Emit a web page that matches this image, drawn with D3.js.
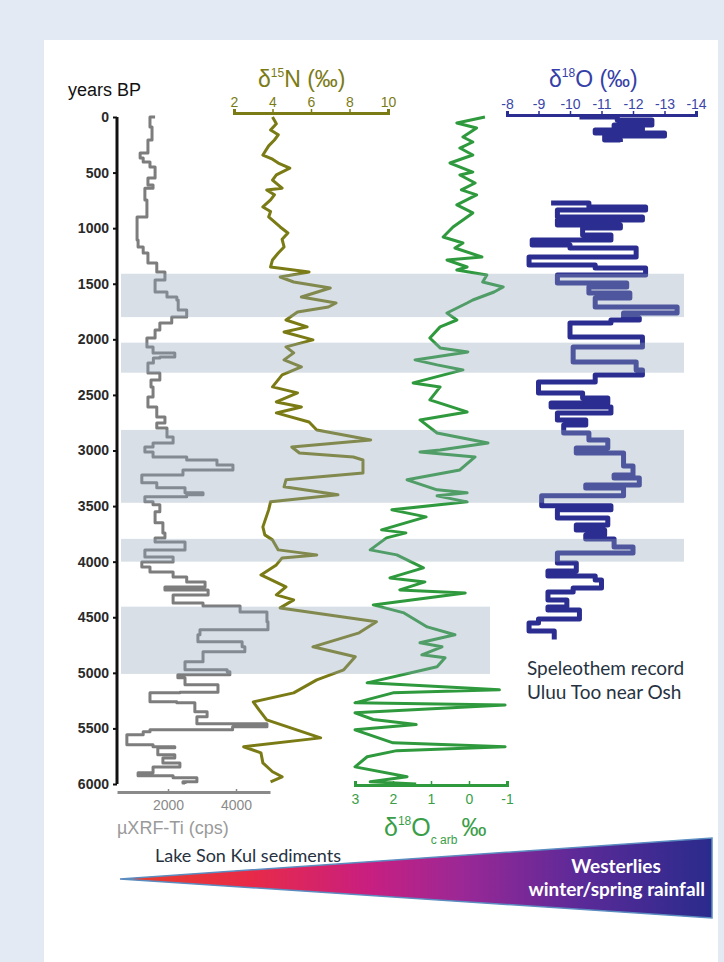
<!DOCTYPE html>
<meta charset="utf-8">
<html>
<head>
<script src="https://d3js.org/d3.v7.min.js"></script>
<style>
  body { margin: 0; background: #e3eaf3; }
  svg { display: block; }
</style>
</head>
<body>
<script>

// ---- data ----
var yearTicks = [0, 500, 1000, 1500, 2000, 2500, 3000, 3500, 4000, 4500, 5000, 5500, 6000];

// shaded periods [start, end] in years BP, and whether they run full width
var bandStart = [1410, 2030, 2815, 3795, 4405];
var bandEnd   = [1800, 2300, 3470, 4000, 5010];
var bandWide  = [true, true, true, true, false];

// Lake Son Kul µXRF-Ti (cps)
var tiAge = [0, 90, 207, 324, 369, 405, 450, 549, 612, 640, 746, 899, 953, 1106, 1169, 1223, 1313, 1394, 1466, 1574,
  1619, 1646, 1736, 1799, 1853, 1916, 1988, 2068, 2122, 2160, 2167, 2212, 2302, 2365, 2428, 2518, 2608, 2698, 2752, 2797,
  2878, 2932, 2968, 3013, 3058, 3085, 3130, 3175, 3220, 3291, 3336, 3381, 3399, 3417, 3462, 3489, 3552, 3651, 3741, 3786,
  3822, 3894, 3957, 4002, 4047, 4092, 4137, 4182, 4227, 4254, 4299, 4371, 4398, 4452, 4541, 4613, 4658, 4721, 4766, 4811,
  4901, 4973, 4991, 5018, 5045, 5108, 5175, 5180, 5261, 5270, 5351, 5396, 5459, 5486, 5513, 5531, 5558, 5648, 5665, 5675,
  5737, 5765, 5810, 5846, 5899, 5926, 5944, 5980, 5990, 6000];
var tiVal = [1620, 1470, 1530, 1410, 1180, 1270, 1470, 1620, 1410, 1560, 1320, 1380, 1090, 1090, 1120, 1270, 1410, 1670, 1910, 1620,
  1970, 2260, 2300, 2550, 2110, 1760, 1620, 1380, 1560, 2200, 1760, 1570, 1410, 1760, 1500, 1560, 1410, 1670, 1910, 1670,
  1970, 2150, 1560, 1320, 1560, 2550, 3440, 3910, 2440, 1230, 1670, 2500, 3030, 2550, 1320, 1560, 1760, 1620, 1850, 1910,
  1620, 2500, 1320, 2150, 1230, 1470, 2150, 2550, 3090, 1910, 3180, 2150, 3030, 4120, 4910, 4940, 2940, 2880, 4180, 4260,
  3030, 2500, 3740, 3820, 2290, 2500, 3470, 2350, 1470, 2260, 2790, 3150, 2850, 4910, 3900, 1470, 1270, 790, 1560, 2200,
  1700, 2200, 1850, 2350, 1560, 1120, 2150, 2850, 2440, 2500];

// Lake Son Kul δ15N (‰)
var nAge = [0, 60, 117, 160, 207, 260, 342, 380, 414, 460, 520, 567, 640, 656, 700, 746, 809, 850, 899, 989, 1043, 1100, 1169, 1223, 1286, 1349, 1394, 1439,
  1484, 1538, 1619, 1673, 1709, 1754, 1826, 1888, 1934, 2005, 2068, 2122, 2185, 2248, 2320, 2428, 2482, 2563, 2608, 2662,
  2743, 2815, 2905, 2968, 3022, 3058, 3085, 3202, 3264, 3327, 3399, 3462, 3534, 3687, 3759, 3804, 3894, 3939, 3966, 4029,
  4119, 4227, 4299, 4344, 4416, 4541, 4640, 4766, 4856, 4973, 5063, 5180, 5261, 5333, 5423, 5585, 5665, 5720, 5810, 5890,
  5935, 5980];
var nVal = [4.0, 4.2, 3.9, 4.3, 4.1, 3.8, 3.5, 4.0, 4.3, 4.9, 4.2, 4.0, 4.5, 3.7, 4.1, 3.9, 3.5, 3.9, 3.8, 4.4, 4.8, 4.5, 4.6, 4.3, 4.0, 3.9, 5.9, 4.4,
  5.1, 7.0, 5.5, 7.3, 6.9, 5.3, 4.7, 5.8, 4.6, 6.1, 4.7, 5.1, 4.6, 5.5, 4.5, 4.0, 5.3, 4.2, 5.5, 4.2,
  5.9, 6.3, 9.1, 5.0, 5.4, 8.2, 8.7, 8.7, 4.7, 4.6, 7.4, 3.9, 3.8, 3.5, 3.6, 4.0, 4.3, 6.3, 4.5, 4.2,
  3.4, 4.7, 4.2, 5.1, 4.4, 9.4, 8.5, 6.1, 8.3, 7.7, 6.3, 5.1, 3.0, 3.3, 3.7, 6.5, 2.5, 3.4, 3.5, 4.0,
  4.5, 3.9];

// Lake Son Kul δ18O carb (‰)
var oCarbAge = [0, 54, 99, 180, 225, 279, 342, 414, 495, 522, 594, 656, 701, 791, 863, 989, 1079, 1133, 1178, 1259,
  1286, 1349, 1376, 1421, 1484, 1529, 1574, 1646, 1673, 1763, 1826, 1888, 1988, 2077, 2113, 2185, 2230, 2275, 2392, 2428,
  2545, 2653, 2725, 2842, 2932, 2995, 3013, 3058, 3175, 3264, 3354, 3381, 3408, 3462, 3534, 3597, 3714, 3741, 3786, 3894,
  3939, 4056, 4146, 4182, 4254, 4281, 4389, 4461, 4587, 4658, 4730, 4766, 4838, 4865, 4946, 5090, 5153, 5180, 5270, 5290,
  5360, 5420, 5465, 5513, 5630, 5665, 5700, 5755, 5846, 5935, 5980, 6000];
var oCarbVal = [-0.42, 0.32, -0.2, 0.16, -0.1, 0.24, -0.1, 0.5, -0.1, 0.24, -0.16, 0.2, -0.2, 0.32, -0.1, 0.42, 0.68, 0.16, 0.37, -0.34,
  0.58, 0.05, 0.32, -0.47, -0.36, -0.9, -0.66, -0.1, 0.05, 0.58, 0.32, 0.76, 1.03, 0.76, 0.03, 1.42, 0.84, 0.16, 1.47, 0.76,
  1.03, 0.05, 1.29, 0.84, -0.5, 0.76, 1.29, -0.16, 0.24, 1.63, 0.84, 0.05, 0.84, 0.05, 2.03, 1.13, 2.3, 1.66, 2.17, 2.6,
  1.9, 1.2, 2.08, 1.16, 1.82, 0.1, 2.52, 1.71, 1.1, 0.37, 1.29, 0.71, 1.24, 0.63, 0.84, 2.68, -0.8, 2.0, 3.0, -0.95,
  3.0, 2.52, 1.39, 3.0, 2.0, -0.95, 1.9, 2.68, 3.0, 1.63, 2.6, 1.39];

// Uluu Too speleothem δ18O (‰); null marks the gap in the record
var speleoAge = [0, 27, 72, 99, 117, 144, 171, 207, 225, 230, 773, 809, 836, 899, 926, 971, 998, 1061, 1106, 1151,
  1178, 1259, 1331, 1358, 1421, 1493, 1529, 1583, 1628, 1709, 1763, 1808, 1826, 1853, 1978, 2068, 2203, 2275, 2320, 2383,
  2482, 2527, 2572, 2608, 2662, 2725, 2770, 2842, 2905, 2977, 3022, 3139, 3220, 3247, 3310, 3337, 3408, 3498, 3534, 3607,
  3670, 3715, 3760, 3795, 3868, 3921, 4011, 4083, 4128, 4164, 4236, 4272, 4344, 4407, 4434, 4515, 4551, 4623, 4700];
var speleoVal = [-10.3, -11.5, -12.6, -11.4, -12.3, -10.8, -13.0, -11.1, -11.6, null, -9.4, -10.6, -12.4, -9.6, -12.3, -9.6, -11.6, -10.4, -11.3, -8.8,
  -10.0, -12.1, -8.7, -10.8, -12.4, -9.6, -11.8, -10.6, -11.9, -10.8, -13.4, -11.7, -12.2, -11.3, -10.0, -12.3, -10.1, -12.1, -12.3, -10.8,
  -9.0, -10.4, -11.2, -9.4, -11.3, -9.6, -10.5, -9.8, -10.6, -11.2, -10.2, -11.7, -12.0, -11.4, -12.2, -10.5, -11.7, -9.1, -11.3, -9.6,
  -11.2, -10.2, -11.1, -10.5, -11.4, -12.0, -9.6, -10.2, -9.3, -10.8, -11.0, -10.1, -9.3, -9.9, -9.3, -10.3, -9.0, -8.7, -9.5];

var tiTicks = [2000, 4000];
var nTicks = [2, 4, 6, 8, 10];
var oCarbTicks = [3, 2, 1, 0, -1];
var speleoTicks = [-8, -9, -10, -11, -12, -13, -14];

// ---- drawing ----
var width = 724, height = 962;
var svg = d3.select("body").append("svg")
  .attr("width", width).attr("height", height);

svg.append("rect").attr("width", width).attr("height", height).attr("fill", "#e3eaf3");
svg.append("rect").attr("x", 44).attr("y", 40).attr("width", 674).attr("height", 922).attr("fill", "#fff");

// age scale shared by all records
var y = d3.scaleLinear().domain([0, 6000]).range([117, 784]);

// x scales for each record
var xTi = d3.scaleLinear().domain([500, 5000]).range([117, 270]);
var xN = d3.scaleLinear().domain([2, 10]).range([234, 388]);
var xC = d3.scaleLinear().domain([3, -1]).range([355, 507]);
var xS = d3.scaleLinear().domain([-8, -14]).range([507, 696]);

var olive = "#7b7b16", green = "#2f9a3d", blue = "#2b2e90", grey = "#7d7d7d";
var plain = function(d) { return String(d); };  // keep hyphen minus, no thousands comma

function series(ages, vals, xs, color, w, curve) {
  var pts = ages.map(function(a, i) { return [a, vals[i]]; });
  var line = d3.line()
    .defined(function(d) { return d[1] != null; })
    .x(function(d) { return xs(d[1]); })
    .y(function(d) { return y(d[0]); })
    .curve(curve);
  svg.append("path").datum(pts)
    .attr("d", line)
    .attr("fill", "none")
    .attr("stroke", color)
    .attr("stroke-width", w)
    .attr("stroke-linejoin", "round");
}

series(tiAge, tiVal, xTi, grey, 3, d3.curveStepAfter);
series(nAge, nVal, xN, olive, 3, d3.curveLinear);
series(oCarbAge, oCarbVal, xC, green, 3, d3.curveLinear);
series(speleoAge, speleoVal, xS, blue, 5, d3.curveStepAfter);

// shaded bands on top, semi transparent
svg.selectAll(".band")
  .data(bandStart)
  .enter().append("rect")
  .attr("class", "band")
  .attr("x", 121)
  .attr("y", function(d) { return y(d); })
  .attr("width", function(d, i) { return bandWide[i] ? 684 - 121 : 490 - 121; })
  .attr("height", function(d, i) { return y(bandEnd[i]) - y(d); })
  .attr("fill", "#8ea3b8")
  .attr("opacity", 0.35);

var font = "Liberation Sans, Arial, sans-serif";

// years BP axis
var yAxis = svg.append("g")
  .attr("transform", "translate(117,0)")
  .call(d3.axisLeft(y).tickValues(yearTicks).tickFormat(plain).tickSize(4).tickPadding(4));
yAxis.select(".domain").attr("stroke", "#111").attr("stroke-width", 3)
  .attr("d", "M0," + y(0) + "V" + y(6000));
yAxis.selectAll(".tick line").attr("stroke", "#111").attr("stroke-width", 2);
yAxis.selectAll("text").attr("font-family", font)
  .attr("font-size", 14).attr("font-weight", "bold").attr("fill", "#2a2a2a");

svg.append("text").attr("x", 68).attr("y", 96)
  .attr("font-family", font).attr("font-size", 18)
  .attr("fill", "#111").text("years BP");

function styleAxis(g, color, lw, fs) {
  g.select(".domain").attr("stroke", color).attr("stroke-width", lw);
  g.selectAll(".tick line").attr("stroke", color).attr("stroke-width", 1.5);
  g.selectAll("text").attr("font-family", font)
    .attr("font-size", fs).attr("fill", color);
}

// Ti axis (bottom)
var tiAxis = svg.append("g").attr("transform", "translate(0,792)")
  .call(d3.axisBottom(xTi).tickValues(tiTicks).tickFormat(plain).tickSizeInner(-3).tickSizeOuter(0).tickPadding(8));
styleAxis(tiAxis, "#8a8a8a", 3, 14);

// δ15N axis (top)
var nAxis = svg.append("g").attr("transform", "translate(0,113)")
  .call(d3.axisTop(xN).tickValues(nTicks).tickFormat(plain).tickSizeInner(4).tickSizeOuter(4).tickPadding(2));
styleAxis(nAxis, olive, 3, 14);

// δ18O carb axis (bottom)
var cAxis = svg.append("g").attr("transform", "translate(0,785)")
  .call(d3.axisBottom(xC).tickValues(oCarbTicks).tickFormat(plain).tickSizeInner(-4).tickSizeOuter(-4).tickPadding(9));
styleAxis(cAxis, green, 3, 14);
cAxis.selectAll("text").attr("fill", "#3a9e48");

// speleothem axis (top)
var sAxis = svg.append("g").attr("transform", "translate(0,115)")
  .call(d3.axisTop(xS).tickValues(speleoTicks).tickFormat(plain).tickSizeInner(4).tickSizeOuter(4).tickPadding(2));
styleAxis(sAxis, blue, 3, 14);
sAxis.selectAll("text").attr("fill", "#3a46a8");

// axis titles
var tN = svg.append("text").attr("x", 258).attr("y", 87).attr("font-family", font)
  .attr("font-size", 23).attr("fill", olive);
tN.append("tspan").text("δ");
tN.append("tspan").attr("font-size", 12).attr("dy", -10).text("15");
tN.append("tspan").attr("dy", 10).text("N (‰)");

var tS = svg.append("text").attr("x", 549).attr("y", 87).attr("font-family", font)
  .attr("font-size", 23).attr("fill", "#3540a8");
tS.append("tspan").text("δ");
tS.append("tspan").attr("font-size", 12).attr("dy", -10).text("18");
tS.append("tspan").attr("dy", 10).text("O (‰)");

var tC = svg.append("text").attr("x", 384).attr("y", 836).attr("font-family", font)
  .attr("font-size", 25).attr("fill", "#3a9e48");
tC.append("tspan").text("δ");
tC.append("tspan").attr("font-size", 12).attr("dy", -11).text("18");
tC.append("tspan").attr("dy", 11).text("O");
tC.append("tspan").attr("font-size", 12).attr("dy", 8).text("c arb");
tC.append("tspan").attr("dy", -8).attr("dx", 4).text("‰");

svg.append("text").attr("x", 117).attr("y", 834).attr("font-family", font)
  .attr("font-size", 18).attr("fill", "#9a9a9a").text("µXRF-Ti (cps)");

var calm = "Lato, Open Sans, sans-serif";
svg.append("text").attr("x", 155).attr("y", 862).attr("font-family", calm)
  .attr("font-size", 18).attr("fill", "#26323f").text("Lake Son Kul sediments");
svg.append("text").attr("x", 527).attr("y", 675).attr("font-family", calm)
  .attr("font-size", 19).attr("fill", "#26323f").text("Speleothem record");
svg.append("text").attr("x", 527).attr("y", 699).attr("font-family", calm)
  .attr("font-size", 19).attr("fill", "#26323f").text("Uluu Too near Osh");

// westerlies wedge
var defs = svg.append("defs");
var grad = defs.append("linearGradient").attr("id", "wedge")
  .attr("x1", "0%").attr("x2", "100%").attr("y1", "0%").attr("y2", "0%");
[["0%", "#e8402a"], ["22%", "#e82a48"], ["42%", "#c81f80"], ["58%", "#9a2896"], ["78%", "#5a2a98"], ["100%", "#2a2b8c"]]
  .forEach(function(s) { grad.append("stop").attr("offset", s[0]).attr("stop-color", s[1]); });

svg.append("polygon")
  .attr("points", "120,879 712,838 712,918")
  .attr("fill", "url(#wedge)")
  .attr("stroke", "#5a8cc0")
  .attr("stroke-width", 1.5);

svg.append("text").attr("x", 616).attr("y", 873).attr("text-anchor", "middle")
  .attr("font-family", calm).attr("font-weight", "bold").attr("font-size", 19)
  .attr("fill", "#fff").text("Westerlies");
svg.append("text").attr("x", 705).attr("y", 896).attr("text-anchor", "end")
  .attr("font-family", calm).attr("font-weight", "bold").attr("font-size", 19)
  .attr("fill", "#fff").text("winter/spring rainfall");

</script>
</body>
</html>
